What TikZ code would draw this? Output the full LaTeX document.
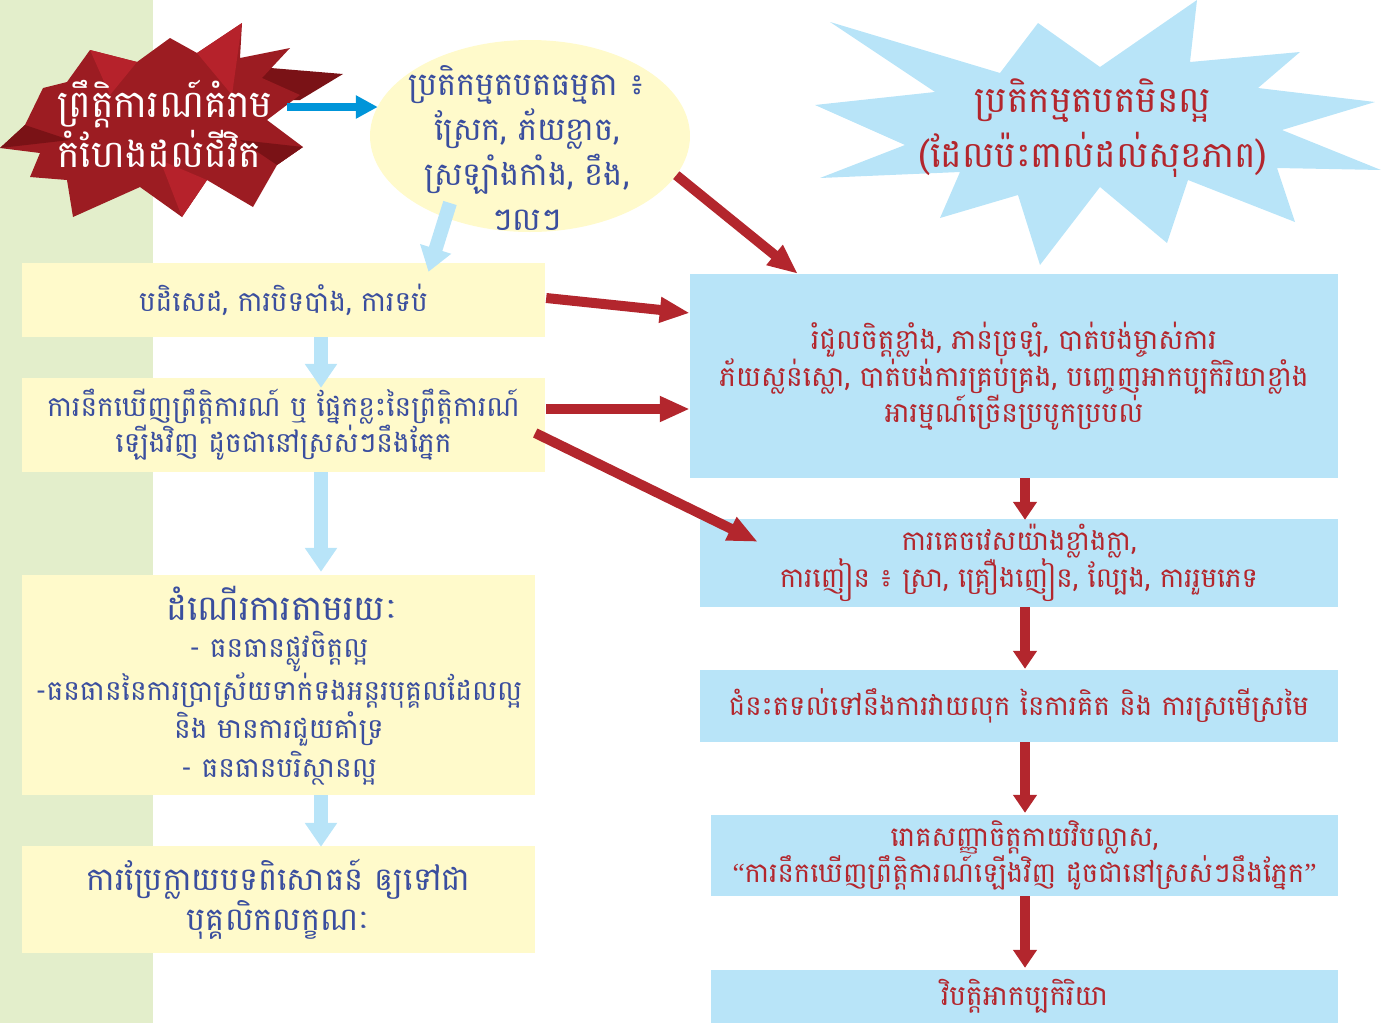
\documentclass[tikz,border=0pt]{standalone}
\usepackage{fontspec}
\usetikzlibrary{arrows.meta,calc,shapes.geometric}
\newfontfamily\khmer[Script=Khmer]{Battambang}
\newfontfamily\qfont{Liberation Serif}
\definecolor{kblue}{HTML}{3A4E9E}
\definecolor{kred}{HTML}{B3262D}
\definecolor{yfill}{HTML}{FFFACB}
\definecolor{lblue}{HTML}{B8E4F8}
\definecolor{bggreen}{HTML}{E3EECB}
\definecolor{arrblue}{HTML}{0095D9}
\definecolor{burstmain}{HTML}{9C1C22}
\definecolor{burstdark}{HTML}{7A1216}
\definecolor{burstlight}{HTML}{B6222B}
\tikzset{
  ybox/.style={fill=yfill, draw=none, inner sep=0pt, text=kblue, font=\khmer, align=center},
  bbox/.style={fill=lblue, draw=none, inner sep=0pt, text=kred, font=\khmer, align=center},
  redarr/.style={draw=kred, line width=10pt, -{Triangle[width=24pt,length=30pt]}},
  reddown/.style={draw=kred, line width=10pt, -{Triangle[width=23pt,length=18pt]}},
  bluearr/.style={draw=lblue, line width=14pt, -{Triangle[width=31pt,length=24pt]}},
  darkbluearr/.style={draw=arrblue, line width=8pt, -{Triangle[width=22pt,length=22pt]}}
}
\begin{document}
\begin{tikzpicture}[x=1pt,y=-1pt]
\useasboundingbox (0,0) rectangle (1381,1023);
% green strip
\fill[bggreen] (0,0) rectangle (153,1023);

% ===== red burst =====
\fill[burstdark] (150,58) -- (343,74) -- (300,100) -- (160,104) -- cycle;
\fill[burstmain] (0,148) -- (25,125) -- (43,88) -- (67,82) -- (90,50) -- (137,62) -- (170,38)
  -- (197,53) -- (242,23) -- (240,58) -- (290,48) -- (262,78) -- (300,95) -- (267,120)
  -- (303,147) -- (277,165) -- (253,207) -- (207,180) -- (182,217) -- (140,187)
  -- (73,217) -- (67,180) -- (30,177) -- (40,153) -- cycle;
\fill[burstlight] (197,53) -- (242,23) -- (232,95) -- cycle;
\fill[burstlight] (207,180) -- (182,217) -- (160,160) -- cycle;
\fill[burstdark] (0,148) -- (25,125) -- (70,140) -- cycle;
\fill[burstdark] (303,147) -- (277,165) -- (240,140) -- cycle;
\fill[burstlight] (90,50) -- (137,62) -- (110,95) -- cycle;
\node[text=white, font=\khmer\fontsize{38}{50}\selectfont, align=left, anchor=west, inner sep=0pt]
  (burst) at (57,124) {ព្រឹត្តិការណ៍គំរាម\\កំហែងដល់ជីវិត};

% ===== light-blue burst =====
\fill[lblue] (1197,0) -- (1190,62) -- (1300,52) -- (1258,88) -- (1375,102) -- (1282,130)
  -- (1381,170) -- (1277,168) -- (1295,222) -- (1188,180) -- (1167,243) -- (1100,187)
  -- (1040,265) -- (1018,195) -- (940,218) -- (960,172) -- (820,178) -- (905,145)
  -- (815,105) -- (935,92) -- (830,22) -- (1000,73) -- (1038,23) -- (1100,67) -- cycle;
\node[text=kred, font=\khmer\fontsize{36}{55}\selectfont, align=center, inner sep=0pt]
  (bad) at (1093,128) {ប្រតិកម្មតបតមិនល្អ\\(ដែលប៉ះពាល់ដល់សុខភាព)};

% ===== yellow ellipse =====
\node[ellipse, fill=yfill, minimum width=320pt, minimum height=192pt, inner sep=0pt] (ell) at (530,136) {};
\node[text=kblue, font=\khmer\fontsize{32}{45}\selectfont, align=center, inner sep=0pt]
  (ellt) at (527,148) {ប្រតិកម្មតបតធម្មតា ៖\\ស្រែក, ភ័យខ្លាច,\\ស្រឡាំងកាំង, ខឹង,\\ៗលៗ};

% ===== left boxes =====
\node[ybox, minimum width=523pt, minimum height=74pt] (b1) at (283.5,300)
  {\fontsize{28}{36}\selectfont បដិសេដ, ការបិទបាំង, ការទប់};
\node[ybox, minimum width=523pt, minimum height=94pt] (b2) at (283.5,425)
  {\fontsize{28}{36}\selectfont ការនឹកឃើញព្រឹត្តិការណ៍ ឬ ផ្នែកខ្លះនៃព្រឹត្តិការណ៍\\\fontsize{28}{36}\selectfont ឡើងវិញ ដូចជានៅស្រស់ៗនឹងភ្នែក};
\node[ybox, minimum width=513pt, minimum height=220pt] (b3) at (278.5,685) {};
\node[text=kblue, font=\khmer\fontsize{35}{40}\selectfont, inner sep=0pt] (b3h) at (282,603) {ដំណើរការតាមរយៈ};
\node[text=kblue, font=\khmer\fontsize{28}{38.5}\selectfont, align=center, inner sep=0pt] (b3t) at (279,708)
  {- ធនធានផ្លូវចិត្តល្អ\\-ធនធាននៃការប្រាស្រ័យទាក់ទងអន្តរបុគ្គលដែលល្អ\\និង មានការជួយគាំទ្រ\\- ធនធានបរិស្ថានល្អ};
\node[ybox, minimum width=513pt, minimum height=107pt] (b4) at (278.5,899.5)
  {\fontsize{32}{48}\selectfont ការប្រែក្លាយបទពិសោធន៍ ឲ្យទៅជា\\\fontsize{32}{48}\selectfont បុគ្គលិកលក្ខណៈ};

% ===== right boxes =====
\node[bbox, minimum width=648pt, minimum height=204pt] (r1) at (1014,376)
  {\fontsize{28}{38.5}\selectfont រំជួលចិត្តខ្លាំង, ភាន់ច្រឡំ, បាត់បង់ម្ចាស់ការ\\\fontsize{28}{38.5}\selectfont ភ័យស្លន់ស្លោ, បាត់បង់ការគ្រប់គ្រង, បញ្ចេញអាកប្បកិរិយាខ្លាំង\\\fontsize{28}{38.5}\selectfont អារម្មណ៍ច្រើនប្របូកប្របល់};
\node[bbox, minimum width=638pt, minimum height=88pt] (r2) at (1019,563)
  {\fontsize{27.5}{38}\selectfont ការគេចវេសយ៉ាងខ្លាំងក្លា,\\\fontsize{27.5}{38}\selectfont ការញៀន ៖ ស្រា, គ្រឿងញៀន, ល្បែង, ការរួមភេទ};
\node[bbox, minimum width=638pt, minimum height=72pt] (r3) at (1019,706)
  {\fontsize{27.5}{38}\selectfont ជំនះតទល់ទៅនឹងការវាយលុក នៃការគិត និង ការស្រមើស្រមៃ};
\node[bbox, minimum width=627pt, minimum height=81pt] (r4) at (1024.5,855.5)
  {\fontsize{27.5}{40}\selectfont រោគសញ្ញាចិត្តកាយវិបល្លាស,\\\fontsize{27.5}{40}\selectfont {\qfont“}ការនឹកឃើញព្រឹត្តិការណ៍ឡើងវិញ ដូចជានៅស្រស់ៗនឹងភ្នែក{\qfont”}};
\node[bbox, minimum width=627pt, minimum height=53pt] (r5) at (1024.5,996.5)
  {\fontsize{28}{38}\selectfont វិបត្តិអាកប្បកិរិយា};

% ===== connectors =====
\coordinate (ax) at (1025,0);
\coordinate (lx) at (321,0);
\coordinate (bs) at (287,107);
\draw[darkbluearr] (bs) -- ($(bs -| ell.west)+(8,0)$);
\draw[bluearr] ($(ell.center)+(-80,67)$) -- ($(b1.north)+(145,9)$);
\draw[bluearr] (b1.south -| lx) -- ($(b2.north -| lx)+(0,10)$);
\draw[bluearr] (b2.south -| lx) -- ($(b3.north -| lx)+(0,-3)$);
\draw[bluearr] (b3.south -| lx) -- ($(b4.north -| lx)+(0,1)$);

\draw[redarr] (ell.-15) -- ($(r1.north west)+(108,0)$);
\draw[redarr] ($(b1.east)+(1,-2)$) -- ($(r1.west)+(0,-63)$);
\draw[redarr] ($(b2.east)+(1,-16)$) -- ($(r1.west)+(0,33)$);
\draw[redarr] ($(b2.east)+(-10,8)$) -- ($(r2.north west)+(58,23)$);

\draw[reddown] (r1.south -| ax) -- ($(r2.north -| ax)+(0,1)$);
\draw[reddown] (r2.south -| ax) -- ($(r3.north -| ax)+(0,-1)$);
\draw[reddown] (r3.south -| ax) -- ($(r4.north -| ax)+(0,-2)$);
\draw[reddown] (r4.south -| ax) -- ($(r5.north -| ax)+(0,-2)$);
\end{tikzpicture}
\end{document}
